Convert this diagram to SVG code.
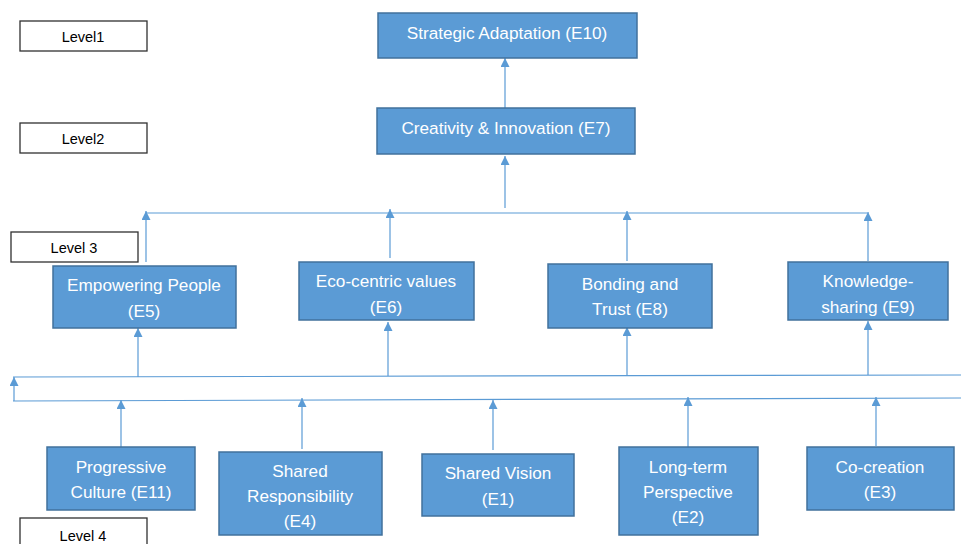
<svg xmlns="http://www.w3.org/2000/svg" width="961" height="544" viewBox="0 0 961 544">
<style>
.node rect{fill:#5B9BD5;stroke:#41719C;stroke-width:1.5}
.node text{fill:#FFFFFF;font-family:"Liberation Sans",Arial,sans-serif;font-size:17.2px;text-anchor:middle}
.lvl rect{fill:#FFFFFF;stroke:#303030;stroke-width:1.3}
.lvl text{fill:#000000;font-family:"Liberation Sans",Arial,sans-serif;font-size:14.5px;text-anchor:middle}
.conn line{stroke:#5B9BD5;stroke-width:1.2;fill:none}
.arr{marker-end:url(#ah)}
</style>
<defs>
<marker id="ah" viewBox="0 0 10 10" refX="10" refY="5" markerWidth="10" markerHeight="9" markerUnits="userSpaceOnUse" orient="auto">
<path d="M0,0 L10,5 L0,10 z" fill="#5B9BD5"/>
</marker>
</defs>
<rect width="961" height="544" fill="#FFFFFF"/>
<g id="level1" class="lvl"><rect x="20" y="21" width="127" height="30"/><text x="83" y="41.5">Level1</text></g>
<g id="level2" class="lvl"><rect x="20" y="123" width="127" height="30"/><text x="83" y="143.5">Level2</text></g>
<g id="level3" class="lvl"><rect x="11" y="232" width="127" height="30"/><text x="74" y="252.5">Level 3</text></g>
<g id="level4" class="lvl"><rect x="20" y="518" width="127" height="40"/><text x="83" y="540.5">Level 4</text></g>

<g class="conn">
<line class="arr" x1="505" y1="108" x2="505" y2="58"/>
<line class="arr" x1="505" y1="208" x2="505" y2="156"/>
<line x1="146" y1="213" x2="867" y2="213"/>
<line class="arr" x1="146" y1="262" x2="146" y2="211"/>
<line class="arr" x1="390" y1="258" x2="390" y2="209"/>
<line class="arr" x1="627" y1="261" x2="627" y2="211"/>
<line class="arr" x1="868" y1="261" x2="868" y2="212"/>
<line class="arr" x1="138" y1="377" x2="138" y2="328"/>
<line class="arr" x1="388" y1="376" x2="388" y2="322"/>
<line class="arr" x1="627" y1="376" x2="627" y2="327"/>
<line class="arr" x1="868" y1="375" x2="868" y2="321"/>
<line x1="13" y1="377" x2="961" y2="375"/>
<line x1="13" y1="401" x2="961" y2="398"/>
<line class="arr" x1="14" y1="401" x2="14" y2="377"/>
<line class="arr" x1="121" y1="447" x2="121" y2="400"/>
<line class="arr" x1="302" y1="449" x2="302" y2="398"/>
<line class="arr" x1="493" y1="450" x2="493" y2="400"/>
<line class="arr" x1="688" y1="447" x2="688" y2="397"/>
<line class="arr" x1="876" y1="446" x2="876" y2="397"/>
</g>

<g id="E10" class="node"><rect x="378" y="13" width="259" height="45"/><text x="507" y="39">Strategic Adaptation (E10)</text></g>
<g id="E7" class="node"><rect x="377" y="108" width="258" height="46"/><text x="506" y="134">Creativity &amp; Innovation (E7)</text></g>
<g id="E5" class="node"><rect x="53" y="266" width="183" height="62"/><text x="144" y="291">Empowering People</text><text x="144" y="317">(E5)</text></g>
<g id="E6" class="node"><rect x="299" y="262" width="175" height="58"/><text x="386" y="287">Eco-centric values</text><text x="386" y="313">(E6)</text></g>
<g id="E8" class="node"><rect x="548" y="264" width="164" height="64"/><text x="630" y="290">Bonding and</text><text x="630" y="315">Trust (E8)</text></g>
<g id="E9" class="node"><rect x="788" y="262" width="160" height="58"/><text x="868" y="287">Knowledge-</text><text x="868" y="313">sharing (E9)</text></g>
<g id="E11" class="node"><rect x="47" y="447" width="148" height="63"/><text x="121" y="473">Progressive</text><text x="121" y="498">Culture (E11)</text></g>
<g id="E4" class="node"><rect x="219" y="452" width="163" height="83"/><text x="300" y="477">Shared</text><text x="300" y="502">Responsibility</text><text x="300" y="527">(E4)</text></g>
<g id="E1" class="node"><rect x="422" y="454" width="152" height="62"/><text x="498" y="479">Shared Vision</text><text x="498" y="505">(E1)</text></g>
<g id="E2" class="node"><rect x="619" y="447" width="139" height="88"/><text x="688" y="473">Long-term</text><text x="688" y="498">Perspective</text><text x="688" y="523">(E2)</text></g>
<g id="E3" class="node"><rect x="807" y="447" width="147" height="63"/><text x="880" y="473">Co-creation</text><text x="880" y="498">(E3)</text></g>
</svg>
